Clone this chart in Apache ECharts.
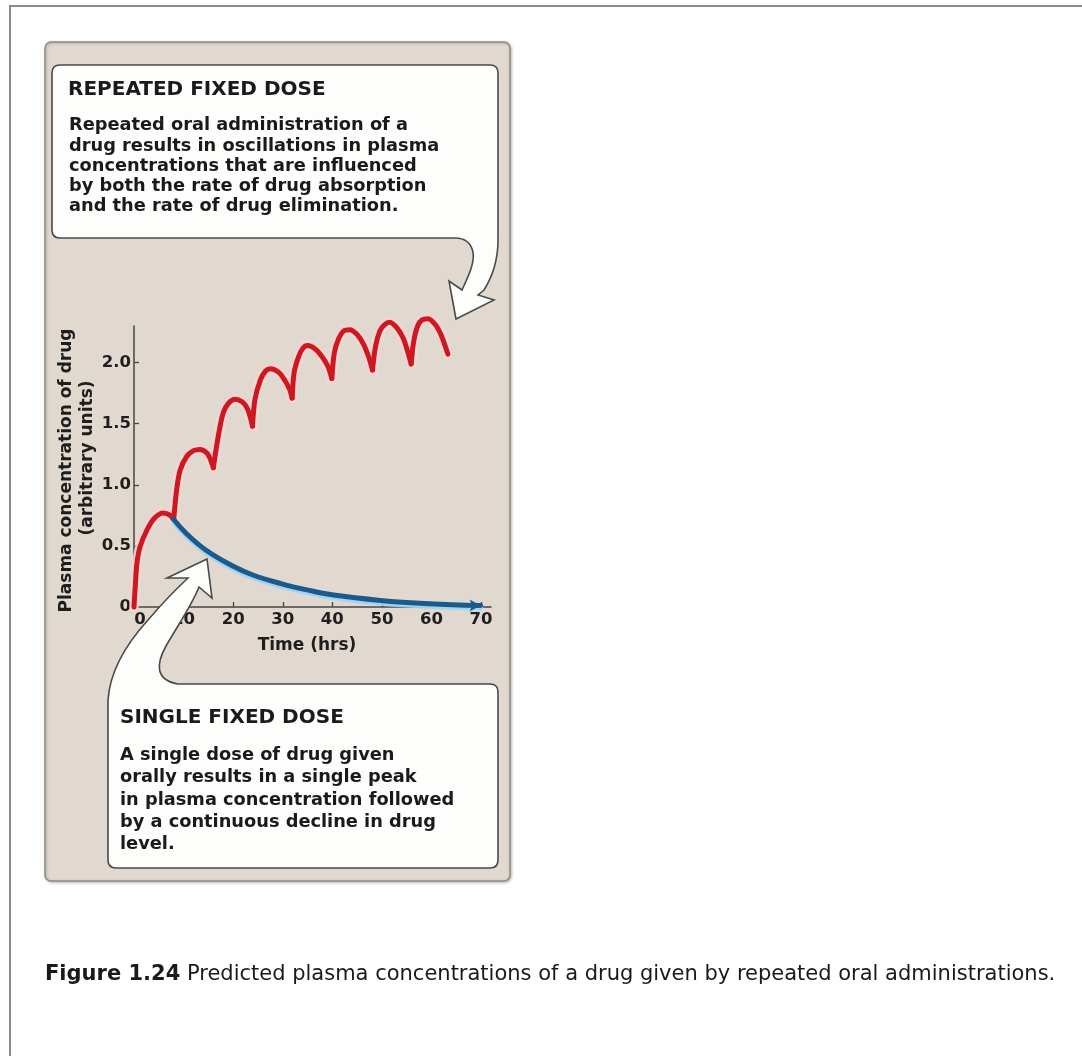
<!DOCTYPE html>
<html>
<head>
<meta charset="utf-8">
<script src="https://cdn.jsdelivr.net/npm/echarts@6/dist/echarts.min.js"></script>
<style>
html,body{margin:0;padding:0;background:#ffffff;}
#c{width:1082px;height:1056px;}
</style>
</head>
<body>
<div id="c"></div>
<script>
// ---------- data ----------
const xTicks = [0, 10, 20, 30, 40, 50, 60, 70];
const yTicks = [0, 0.5, 1.0, 1.5, 2.0];
const yTickLabels = ['0', '0.5', '1.0', '1.5', '2.0'];

// repeated fixed dose (hours, concentration); null separates dosing intervals
const repeatedDose = [
  [0, 0], [0.3, 0.2], [0.6, 0.36], [1.2, 0.49], [2.6, 0.63], [4.2, 0.73], [5.9, 0.77], [7.3, 0.75], [8.0, 0.71],
  null,
  [8.0, 0.71], [8.6, 0.96], [9.3, 1.12], [10.6, 1.23], [12.0, 1.28], [13.3, 1.29], [14.7, 1.26], [15.5, 1.20], [16.0, 1.14],
  null,
  [16.0, 1.14], [17.0, 1.40], [18.0, 1.59], [19.1, 1.67], [20.4, 1.70], [21.8, 1.68], [22.8, 1.63], [23.4, 1.56], [23.9, 1.48],
  null,
  [23.9, 1.48], [24.4, 1.70], [25.5, 1.86], [26.5, 1.93], [27.5, 1.95], [29.2, 1.92], [30.5, 1.85], [31.4, 1.78], [31.9, 1.71],
  null,
  [31.9, 1.71], [32.3, 1.92], [33.2, 2.05], [34.1, 2.12], [35.0, 2.14], [36.6, 2.11], [37.9, 2.05], [39.1, 1.97], [39.9, 1.87],
  null,
  [39.9, 1.87], [40.4, 2.08], [41.3, 2.20], [42.3, 2.26], [43.5, 2.27], [45.0, 2.23], [46.3, 2.15], [47.3, 2.05], [48.1, 1.94],
  null,
  [48.1, 1.94], [48.7, 2.13], [49.6, 2.26], [50.5, 2.31], [51.6, 2.33], [53.1, 2.28], [54.3, 2.20], [55.2, 2.09], [55.9, 1.99],
  null,
  [55.9, 1.99], [56.4, 2.17], [57.2, 2.30], [58.1, 2.35], [59.3, 2.36], [60.8, 2.31], [62.0, 2.22], [63.3, 2.07]
];

// single fixed dose decline
const singleDose = [
  [7.95, 0.72], [10.6, 0.60], [14.7, 0.46], [19.7, 0.34], [24.1, 0.26], [29.8, 0.19],
  [34.9, 0.14], [39.9, 0.10], [49.7, 0.054], [59.5, 0.027], [69.9, 0.012]
];

const xAxisTitle = 'Time (hrs)';
const yAxisTitle1 = 'Plasma concentration of drug';
const yAxisTitle2 = '(arbitrary units)';

const topTitle = 'REPEATED FIXED DOSE';
const topBody = [
  'Repeated oral administration of a',
  'drug results in oscillations in plasma',
  'concentrations that are influenced',
  'by both the rate of drug absorption',
  'and the rate of drug elimination.'
];
const bottomTitle = 'SINGLE FIXED DOSE';
const bottomBody = [
  'A single dose of drug given',
  'orally results in a single peak',
  'in plasma concentration followed',
  'by a continuous decline in drug',
  'level.'
];
const captionBold = 'Figure 1.24';
const captionText = 'Predicted plasma concentrations of a drug given by repeated oral administrations.';

// ---------- build ----------
const FONT_B = '"DejaVu Sans", sans-serif';
const RED = '#cc1820';
const BLUE = '#1b5a8c';

function splitSegments(arr) {
  const out = []; let cur = [];
  arr.forEach(p => { if (p === null) { out.push(cur); cur = []; } else { cur.push(p); } });
  if (cur.length) out.push(cur);
  return out;
}
const redSegments = splitSegments(repeatedDose);

const series = [];
redSegments.forEach(seg => {
  series.push({
    type: 'line', data: seg, smooth: 0.3, symbol: 'none', clip: false, silent: true, z: 2,
    lineStyle: { color: 'rgba(255,212,212,0.9)', width: 9.5, cap: 'round', join: 'round' }
  });
});
redSegments.forEach(seg => {
  series.push({
    type: 'line', data: seg, smooth: 0.3, symbol: 'none', clip: false, silent: true, z: 3,
    lineStyle: { color: RED, width: 5, cap: 'round', join: 'round' }
  });
});
series.push({
  type: 'line', smooth: 0.4, clip: false, silent: true, z: 3,
  showSymbol: true, symbol: 'none',
  data: singleDose.map((p, i) => i === singleDose.length - 1
    ? { value: p, symbol: 'arrow', symbolSize: [9, 11], symbolRotate: -90, itemStyle: { color: BLUE } }
    : { value: p }),
  lineStyle: { color: BLUE, width: 5, cap: 'round', shadowColor: '#9fd3ef', shadowOffsetY: 2.5, shadowBlur: 1 }
});

const topBoxPath =
  'M60 65 L490 65 Q498 65 498 73 L498 240 C498 258 494 274 484 290 L478 295 ' +
  'L494 300 L456 319 L449 281 L462 290 C467 279 475 264 473 252 C471 243 465 238 455 238 ' +
  'L60 238 Q52 238 52 230 L52 73 Q52 65 60 65 Z';
const bottomBoxPath =
  'M108 700 C110 670 128 642 148 620 C160 606 175 590 188 578 L167 578 L207 559 L212 598 L199 587 ' +
  'C192 605 178 625 166 646 C156 664 155 680 178 684 L490 684 Q498 684 498 692 L498 860 Q498 868 490 868 ' +
  'L116 868 Q108 868 108 860 Z';

echarts.graphic.registerShape('topCallout', echarts.graphic.extendPath(topBoxPath, {}));
echarts.graphic.registerShape('bottomCallout', echarts.graphic.extendPath(bottomBoxPath, {}));

const graphics = [
  { type: 'polyline', z: -100, silent: true,
    shape: { points: [[10, 1056], [10, 6], [1082, 6]] },
    style: { stroke: '#8c8c8c', lineWidth: 2, fill: null } },
  { type: 'rect', z: -90, silent: true,
    shape: { x: 45, y: 42, width: 465, height: 839, r: 6 },
    style: { fill: '#e1d9cf', stroke: '#8f8a83', lineWidth: 1.5,
      shadowColor: 'rgba(0,0,0,0.25)', shadowBlur: 3, shadowOffsetX: 1, shadowOffsetY: 1 } },
  { type: 'topCallout', z: 100, silent: true,
    style: { fill: '#fdfdfc', stroke: '#4a4a4a', lineWidth: 1.6 } },
  { type: 'bottomCallout', z: 100, silent: true,
    style: { fill: '#fdfdfc', stroke: '#4a4a4a', lineWidth: 1.6 } },
  { type: 'text', z: 101, silent: true, x: 68, y: 89.5,
    style: { text: topTitle, font: 'bold 20px ' + FONT_B, fill: '#1a1a1a', align: 'left', verticalAlign: 'middle' } },
  { type: 'text', z: 101, silent: true, x: 69, y: 115.7,
    style: { text: topBody.join('\n'), font: 'bold 17.8px ' + FONT_B, lineHeight: 20.25, fill: '#1a1a1a', align: 'left', verticalAlign: 'top' } },
  { type: 'text', z: 101, silent: true, x: 120, y: 718,
    style: { text: bottomTitle, font: 'bold 20px ' + FONT_B, fill: '#1a1a1a', align: 'left', verticalAlign: 'middle' } },
  { type: 'text', z: 101, silent: true, x: 120, y: 744.7,
    style: { text: bottomBody.join('\n'), font: 'bold 17.8px ' + FONT_B, lineHeight: 22.1, fill: '#1a1a1a', align: 'left', verticalAlign: 'top' } },
  { type: 'text', z: 101, silent: true, x: 45, y: 975,
    style: {
      text: '{b|' + captionBold + '} {r|' + captionText + '}',
      align: 'left', verticalAlign: 'middle',
      rich: {
        b: { fontFamily: '"DejaVu Sans", sans-serif', fontWeight: 'bold', fontSize: 21, fill: '#1a1a1a' },
        r: { fontFamily: '"DejaVu Sans", sans-serif', fontWeight: 'normal', fontSize: 21, fill: '#1a1a1a' }
      },
      font: '21px "DejaVu Sans", sans-serif', fill: '#1a1a1a'
    } }
];

const labelStyle = { fontFamily: FONT_B, fontWeight: 'bold', fontSize: 16.5, color: '#1e1e1e' };

const option = {
  backgroundColor: '#ffffff',
  animation: false,
  grid: { left: 134, top: 326, width: 357, height: 281, containLabel: false },
  xAxis: {
    type: 'value', min: 0, max: 72, interval: 10,
    name: xAxisTitle, nameLocation: 'middle', nameGap: 30,
    nameTextStyle: { fontFamily: FONT_B, fontWeight: 'bold', fontSize: 17, color: '#1e1e1e', padding: [0, 11, 0, 0] },
    axisLine: { show: true, onZero: false, lineStyle: { color: '#454545', width: 1.5 } },
    axisTick: { show: true, inside: true, length: 5, customValues: xTicks, lineStyle: { color: '#454545', width: 1.3 } },
    axisLabel: Object.assign({}, labelStyle, {
      margin: 4, customValues: xTicks,
      formatter: v => v === 0 ? '{z|0}' : String(v),
      rich: { z: { padding: [0, 0, 0, 12], fontFamily: FONT_B, fontWeight: 'bold', fontSize: 16.5, color: '#1e1e1e' } }
    }),
    splitLine: { show: false }
  },
  yAxis: {
    type: 'value', min: 0, max: 2.3, interval: 0.5,
    name: '{a|' + yAxisTitle1 + '}\n{b|' + yAxisTitle2 + '}',
    nameLocation: 'middle', nameGap: 31.5, nameRotate: 90,
    nameTextStyle: {
      fontFamily: FONT_B, fontWeight: 'bold', fontSize: 17, color: '#1e1e1e', lineHeight: 21,
      rich: {
        a: { fontFamily: FONT_B, fontWeight: 'bold', fontSize: 17, color: '#1e1e1e', lineHeight: 21, padding: [0, 8, 0, 0] },
        b: { fontFamily: FONT_B, fontWeight: 'bold', fontSize: 17, color: '#1e1e1e', lineHeight: 21, padding: [0, 0, 0, 17] }
      }
    },
    axisLine: { show: true, lineStyle: { color: '#454545', width: 1.5 } },
    axisTick: { show: true, inside: true, length: 5, customValues: yTicks, lineStyle: { color: '#454545', width: 1.3 } },
    axisLabel: Object.assign({}, labelStyle, {
      margin: 3, customValues: yTicks,
      formatter: v => { const i = yTicks.indexOf(v); return i >= 0 ? yTickLabels[i] : ''; }
    }),
    splitLine: { show: false }
  },
  graphic: { elements: graphics },
  series: series
};

const chart = echarts.init(document.getElementById('c'), null, { renderer: 'canvas', width: 1082, height: 1056 });
chart.setOption(option);
</script>
</body>
</html>
